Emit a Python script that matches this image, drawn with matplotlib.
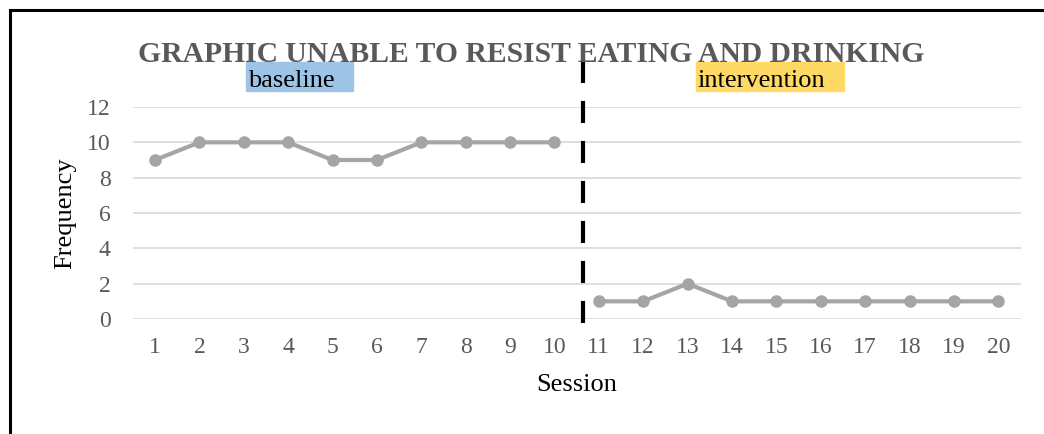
import matplotlib
matplotlib.use("Agg")
import matplotlib.pyplot as plt
from matplotlib.patches import Rectangle
from matplotlib.lines import Line2D

sessions_base = [1, 2, 3, 4, 5, 6, 7, 8, 9, 10]
freq_base = [9, 10, 10, 10, 9, 9, 10, 10, 10, 10]
sessions_int = [11, 12, 13, 14, 15, 16, 17, 18, 19, 20]
freq_int = [1, 1, 2, 1, 1, 1, 1, 1, 1, 1]
yticks = [0, 2, 4, 6, 8, 10, 12]
phase_change = 10.64

title = "GRAPHIC UNABLE TO RESIST EATING AND DRINKING"

plt.rcParams['font.family'] = ['Liberation Serif', 'DejaVu Serif']

W, H = 1044, 434
fig = plt.figure(figsize=(W / 100, H / 100), dpi=100)
ax = fig.add_axes([132.8 / W, 1 - 319 / H, (1020.5 - 132.8) / W, (319 - 107) / H])

line_c = '#A5A5A5'
for xs, ys in [(sessions_base, freq_base), (sessions_int, freq_int)]:
    ax.plot(xs, ys, color=line_c, lw=3, marker='o', ms=8, solid_capstyle='round', zorder=3)

ax.set_xlim(0.5, 20.5)
ax.set_ylim(0, 12)
ax.set_yticks(yticks)
ax.set_xticks(sessions_base + sessions_int)
ax.grid(axis='y', color='#D9D9D9', lw=1.2)
ax.set_axisbelow(True)
for s in ax.spines.values():
    s.set_visible(False)
ax.tick_params(length=0, labelsize=17, labelcolor='#595959')
ax.tick_params(axis='y', pad=16)
ax.tick_params(axis='x', pad=13)

ax.plot([phase_change, phase_change], [-0.2, 14.7], color='black', lw=3,
        dashes=(5.3, 4.3), clip_on=False, zorder=4)

fig.text(531.5 / W, 1 - 62 / H, title, ha='center', va='baseline',
         fontsize=21.3, fontweight='bold', color='#595959')

fig.patches.append(Rectangle((246 / W, 1 - 91 / H), (353 - 246) / W, (91 - 62) / H,
                             transform=fig.transFigure, color='#9DC3E6', zorder=0))
fig.text(248 / W, 1 - 87 / H, "baseline", ha='left', va='baseline', fontsize=19, color='black')
fig.patches.append(Rectangle((696 / W, 1 - 91 / H), (844 - 696) / W, (91 - 62) / H,
                             transform=fig.transFigure, color='#FFD966', zorder=0))
fig.text(697 / W, 1 - 87 / H, "intervention", ha='left', va='baseline', fontsize=19, color='black')

fig.text(577 / W, 1 - 385 / H, "Session", ha='center', va='center', fontsize=19, color='black')
fig.text(65 / W, 1 - 213 / H, "Frequency", ha='center', va='center', rotation=90,
         fontsize=19, color='black')

fig.lines.append(Line2D([9.5 / W, 1.0], [1 - 9.5 / H, 1 - 9.5 / H], transform=fig.transFigure,
                        color='black', lw=2.2))
fig.lines.append(Line2D([9.5 / W, 9.5 / W], [0, 1 - 9.5 / H], transform=fig.transFigure,
                        color='black', lw=2.2))

fig.savefig("out.png", dpi=100)
